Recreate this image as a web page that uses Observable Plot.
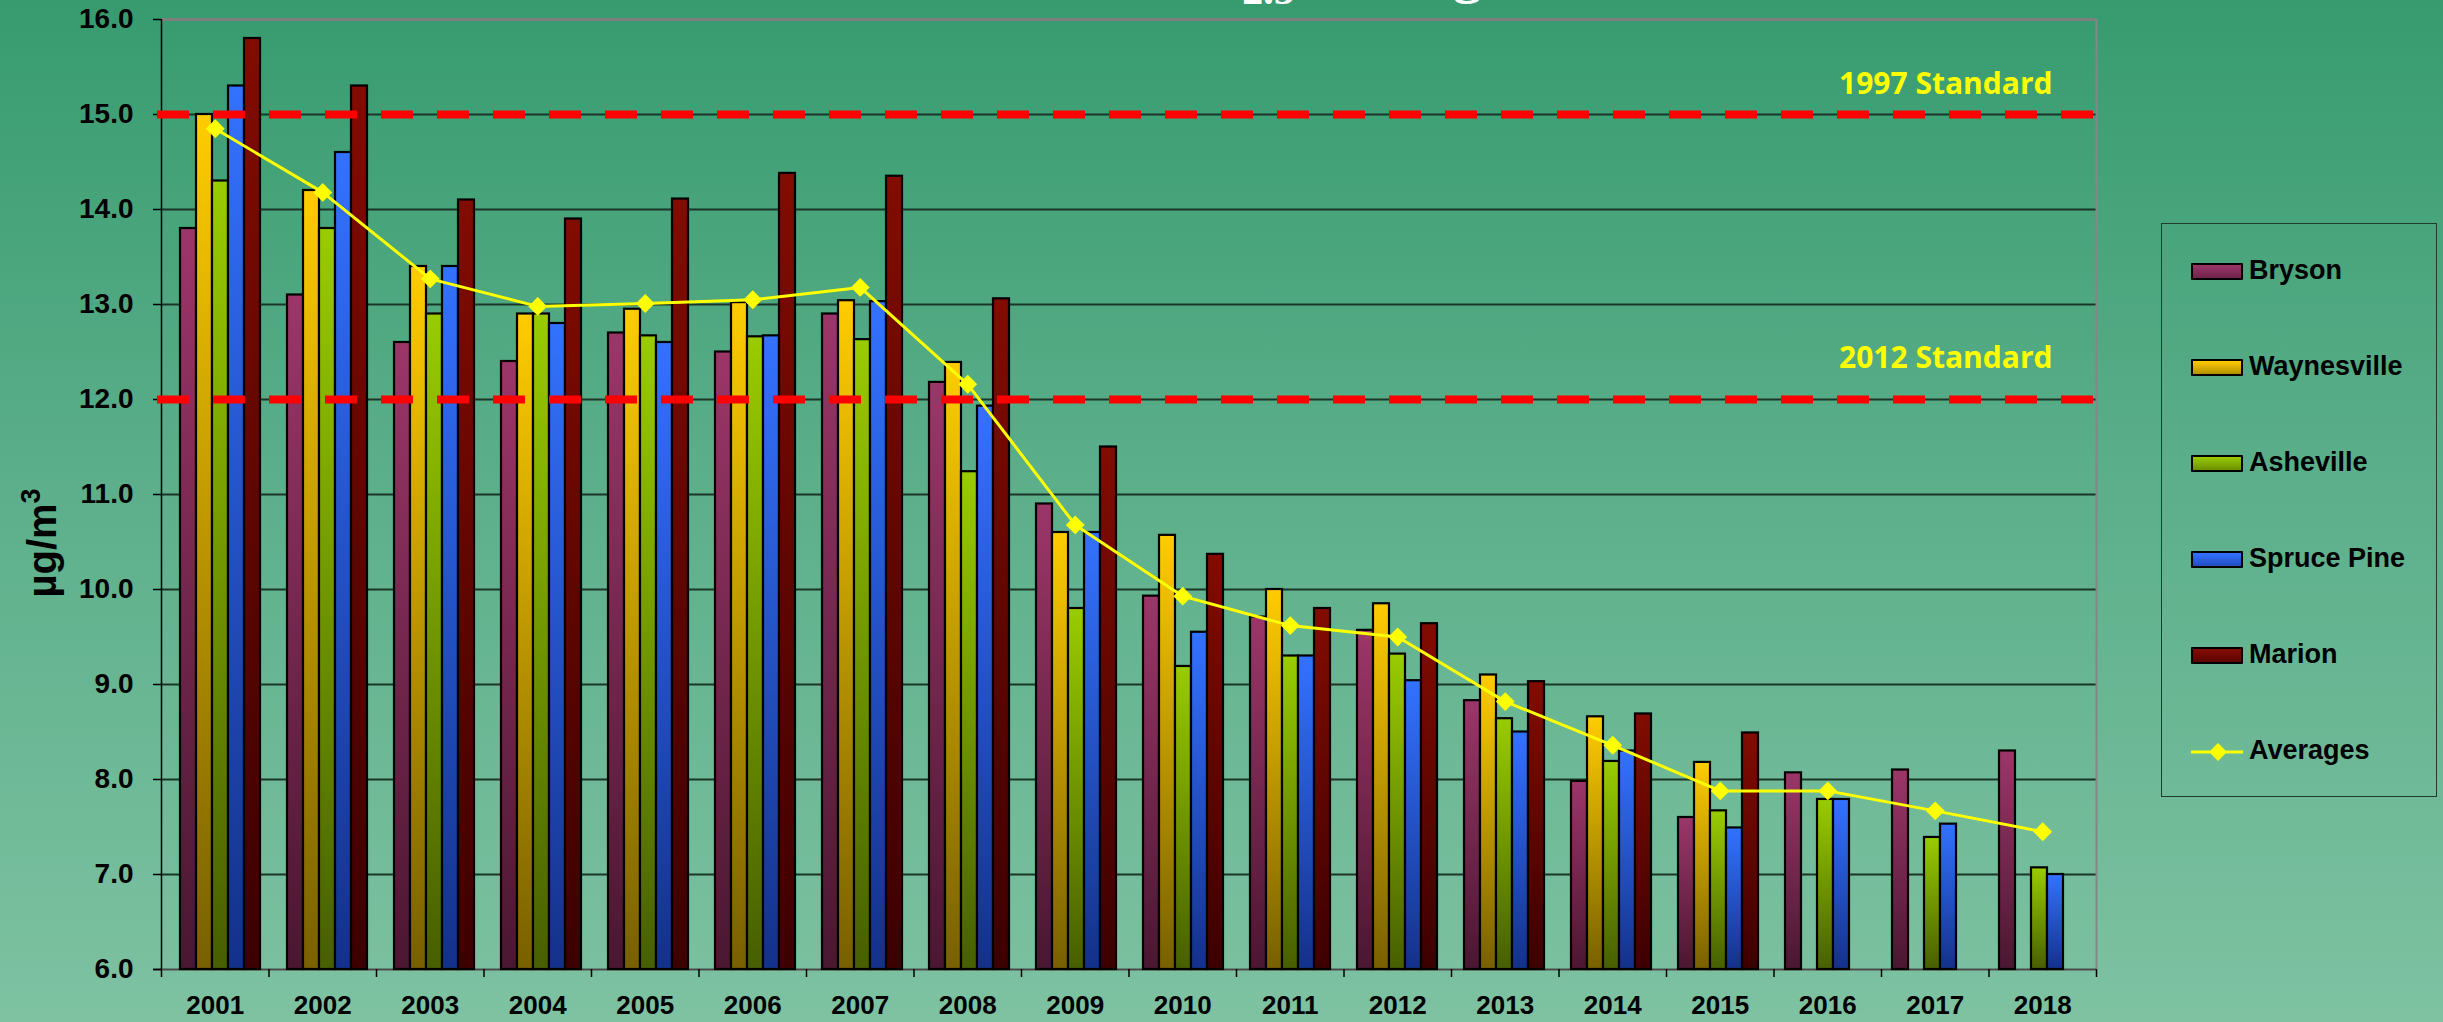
<!DOCTYPE html>
<html>
<head>
<meta charset="utf-8">
<script src="https://cdn.jsdelivr.net/npm/d3@7"></script>
<script src="https://cdn.jsdelivr.net/npm/@observablehq/plot@0.6"></script>
<style>
  html, body { margin: 0; padding: 0; }
  body {
    width: 2443px; height: 1022px; position: relative; overflow: hidden;
    background: linear-gradient(to bottom, #379b6f 0%, #5aae89 45%, #7ec2a2 100%);
    font-family: "Liberation Sans", Arial, sans-serif;
  }
  .layer { position: absolute; left: 0; top: 0; }
  #legend {
    position: absolute; left: 2161px; top: 223px; width: 276px; height: 574px;
    border: 1.5px solid #1f3b2c; box-sizing: border-box;
  }
  .entry { position: absolute; left: 0; height: 30px; display: flex; align-items: center; }
  .swatch { position: absolute; left: 29px; width: 48px; height: 13px; border: 2px solid #000; border-radius: 1px; }
  .label { position: absolute; left: 87px; font: bold 27px "Liberation Sans", Arial, sans-serif; color: #000; white-space: nowrap; }
</style>
</head>
<body>
<div id="chart"></div>
<div id="legend"></div>
<script>
// ---------------- data ----------------
const years = [2001, 2002, 2003, 2004, 2005, 2006, 2007, 2008, 2009, 2010, 2011, 2012, 2013, 2014, 2015, 2016, 2017, 2018];
const sites = ["Bryson", "Waynesville", "Asheville", "Spruce Pine", "Marion"];
const bryson      = [13.8, 13.1, 12.6, 12.4, 12.7, 12.5, 12.9, 12.18, 10.9, 9.93, 9.71, 9.57, 8.83, 7.98, 7.6, 8.07, 8.1, 8.3];
const waynesville = [15.0, 14.2, 13.4, 12.9, 12.95, 13.02, 13.04, 12.39, 10.6, 10.57, 10.0, 9.85, 9.1, 8.66, 8.18, null, null, null];
const asheville   = [14.3, 13.8, 12.9, 12.9, 12.67, 12.66, 12.63, 11.24, 9.8, 9.19, 9.3, 9.32, 8.64, 8.19, 7.67, 7.79, 7.39, 7.07];
const sprucePine  = [15.3, 14.6, 13.4, 12.8, 12.6, 12.67, 13.03, 11.93, 10.6, 9.55, 9.3, 9.04, 8.5, 8.3, 7.49, 7.79, 7.53, 7.0];
const marion      = [15.8, 15.3, 14.1, 13.9, 14.11, 14.38, 14.35, 13.06, 11.5, 10.37, 9.8, 9.64, 9.03, 8.69, 8.49, null, null, null];
const averages    = [14.85, 14.18, 13.27, 12.98, 13.01, 13.05, 13.18, 12.16, 10.68, 9.93, 9.62, 9.5, 8.82, 8.36, 7.88, 7.88, 7.67, 7.45];
const seriesValues = [bryson, waynesville, asheville, sprucePine, marion];
const averagesLabel = "Averages";
const standardValues = [15, 12];
const standardLabels = ["1997 Standard", "2012 Standard"];
const yTicks = [6, 7, 8, 9, 10, 11, 12, 13, 14, 15, 16];
const yDomain = [6, 16];
const yLabel = "µg/m";
const yLabelSup = "3";
const titleMain = "PM";
const titleSub = "2.5";
const titleRest = " Averages";

// ---------------- style ----------------
const topColors    = ["#9c3669", "#ffcc00", "#99cc00", "#3372ff", "#820c00"];
const bottomColors = ["#4a1731", "#786000", "#475f00", "#14318a", "#3c0000"];
const gradIds = sites.map((s, i) => "grad" + i);

const W = 2443, H = 1022;
const M = {left: 161, right: 347, top: 19, bottom: 53};
const font = "Liberation Sans, Arial, sans-serif";
const baseStyle = {background: "transparent", maxWidth: "none", fontFamily: font, color: "#000", overflow: "visible"};

const xLin = {domain: [years[0] - 0.5, years[years.length - 1] + 0.5], axis: null};
const boundaries = years.map(y => y - 0.5).concat([years[years.length - 1] + 0.5]);
const gridValues = yTicks.filter(v => v > yDomain[0] && v < yDomain[1]);

const barData = [];
sites.forEach((s, si) => years.forEach((y, yi) => {
  const v = seriesValues[si][yi];
  if (v != null) barData.push({year: y, site: s, value: v});
}));
const avgData = years.map((y, i) => ({year: y, avg: averages[i]}));

// ---------------- layer A: grid + axes ----------------
const layerA = Plot.plot({
  width: W, height: H,
  marginLeft: M.left, marginRight: M.right, marginTop: M.top, marginBottom: M.bottom,
  x: xLin,
  y: {domain: yDomain, axis: null},
  style: baseStyle,
  marks: [
    Plot.ruleY(gridValues, {stroke: "#1b3528", strokeWidth: 2}),
    Plot.ruleY([yDomain[1]], {stroke: "#7f7f7f", strokeWidth: 3}),
    Plot.ruleX([years[years.length - 1] + 0.5], {stroke: "#868686", strokeWidth: 2}),
    Plot.ruleY([yDomain[0]], {stroke: "#4a4a4a", strokeWidth: 2, insetLeft: -8}),
    Plot.ruleX([years[0] - 0.5], {stroke: "#000", strokeWidth: 1.5}),
    Plot.axisY({ticks: yTicks, tickFormat: d3.format(".1f"), tickSize: 8, tickPadding: 20,
      fontSize: 28, fontWeight: "bold", stroke: "#000", strokeWidth: 1.5}),
    Plot.axisX({ticks: boundaries, tickFormat: () => "", tickSize: 8, stroke: "#000", strokeWidth: 1.5}),
    Plot.axisX({ticks: years, tickFormat: d => String(d), tickSize: 0, tickPadding: 26,
      fontSize: 26, fontWeight: "bold"})
  ]
});
layerA.classList.add("layer");

// y-axis title with superscript
const yt = d3.select(layerA).append("text")
  .attr("transform", "translate(56,543) rotate(-90)")
  .attr("text-anchor", "middle")
  .attr("font-family", font).attr("font-weight", "bold").attr("font-size", 40).attr("fill", "#000");
yt.append("tspan").text(yLabel);
yt.append("tspan").attr("dy", -16).attr("font-size", 27).text(yLabelSup);

// ---------------- layer B: bars (faceted by year) ----------------
const layerB = Plot.plot({
  width: W, height: H,
  marginLeft: M.left, marginRight: M.right, marginTop: M.top, marginBottom: M.bottom,
  fx: {domain: years, padding: 0, axis: null},
  x: {domain: sites, paddingInner: 0, paddingOuter: 0.7, align: 0.5, axis: null},
  y: {domain: yDomain, axis: null},
  color: {type: "ordinal", domain: sites, range: gradIds.map(id => `url(#${id})`)},
  style: baseStyle,
  marks: [
    Plot.barY(barData, {fx: "year", x: "site", y1: yDomain[0], y2: "value", fill: "site",
      stroke: "#000", strokeWidth: 2.2})
  ]
});
layerB.classList.add("layer");
const defs = d3.select(layerB).insert("defs", ":first-child");
sites.forEach((s, i) => {
  const g = defs.append("linearGradient").attr("id", gradIds[i])
    .attr("x1", 0).attr("y1", 0).attr("x2", 0).attr("y2", 1);
  g.append("stop").attr("offset", "0%").attr("stop-color", topColors[i]);
  g.append("stop").attr("offset", "100%").attr("stop-color", bottomColors[i]);
});

// ---------------- layer C: standards + averages ----------------
const stdData = standardValues.map((v, i) => ({value: v, label: standardLabels[i]}));
const stdText = {y: "value", text: "label", frameAnchor: "right", textAnchor: "end", dx: -44,
  fill: "#ffff00", fontSize: 30, fontWeight: "bold", fontFamily: "Open Sans, Liberation Sans, sans-serif"};
const layerC = Plot.plot({
  width: W, height: H,
  marginLeft: M.left, marginRight: M.right, marginTop: M.top, marginBottom: M.bottom,
  x: xLin,
  y: {domain: yDomain, axis: null},
  style: baseStyle,
  marks: [
    Plot.ruleY(standardValues, {stroke: "#ff0000", strokeWidth: 8, strokeDasharray: "32,24", insetLeft: -4}),
    Plot.text(stdData.slice(0, 1), {...stdText, dy: -30}),
    Plot.text(stdData.slice(1, 2), {...stdText, dy: -41}),
    Plot.line(avgData, {x: "year", y: "avg", stroke: "#ffff00", strokeWidth: 3}),
    Plot.dot(avgData, {x: "year", y: "avg", symbol: "diamond2", r: 8.5, fill: "#ffff00", stroke: "none"})
  ]
});
layerC.classList.add("layer");

// ---------------- title (cut off at top, as in the reference) ----------------
const titleSvg = d3.create("svg").attr("class", "layer").attr("width", W).attr("height", 40);
const tt = titleSvg.append("text").attr("x", 1152).attr("y", -8)
  .attr("font-family", "Liberation Serif, Times New Roman, serif").attr("font-weight", "bold")
  .attr("font-size", 58).attr("fill", "#ffffff");
tt.append("tspan").text(titleMain);
tt.append("tspan").attr("dy", 12).attr("font-size", 42).text(titleSub);
tt.append("tspan").attr("dy", -12).text(titleRest);

const chart = document.getElementById("chart");
chart.append(layerA, layerB, layerC, titleSvg.node());

// ---------------- legend ----------------
const legend = d3.select("#legend");
const entryTop = 33, entryStep = 96;
sites.forEach((s, i) => {
  const e = legend.append("div").attr("class", "entry").style("top", (entryTop + i * entryStep) + "px");
  e.append("div").attr("class", "swatch")
    .style("top", "6px")
    .style("background", `linear-gradient(to bottom, ${topColors[i]}, ${d3.interpolateRgb(topColors[i], bottomColors[i])(0.55)})`);
  e.append("div").attr("class", "label").style("top", "-2px").text(s);
});
const ea = legend.append("div").attr("class", "entry").style("top", (entryTop + sites.length * entryStep) + "px");
const sw = ea.append("svg").attr("width", 60).attr("height", 30).style("position", "absolute").style("left", "29px").style("top", "0px");
sw.append("line").attr("x1", 0).attr("x2", 52).attr("y1", 15).attr("y2", 15).attr("stroke", "#ffff00").attr("stroke-width", 3);
sw.append("path").attr("d", "M27,6 L36,15 L27,24 L18,15 Z").attr("fill", "#ffff00");
ea.append("div").attr("class", "label").style("top", "-2px").text(averagesLabel);
</script>
</body>
</html>
